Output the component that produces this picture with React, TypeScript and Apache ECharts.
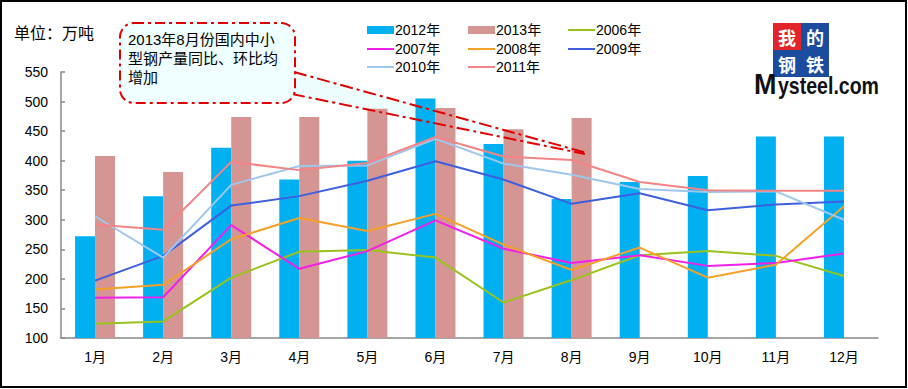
import React, { useEffect, useRef } from 'react';
import * as echarts from 'echarts';

const months = ['1月', '2月', '3月', '4月', '5月', '6月', '7月', '8月', '9月', '10月', '11月', '12月'];
const s2012 = [272, 340, 422, 368, 400, 505, 428, 335, 364, 374, 441, 441];
const s2013 = [408, 381, 474, 474, 488, 489, 453, 472, null, null, null, null];
const s2006 = [124, 128, 202, 246, 249, 236, 160, 198, 240, 247, 239, 205];
const s2007 = [168, 169, 291, 217, 247, 299, 251, 227, 240, 222, 227, 243];
const s2008 = [182, 190, 267, 303, 281, 310, 258, 215, 253, 202, 224, 323];
const s2009 = [197, 239, 324, 340, 366, 399, 368, 327, 345, 316, 326, 331];
const s2010 = [306, 236, 359, 391, 392, 437, 395, 376, 352, 347, 348, 300];
const s2011 = [292, 283, 398, 384, 396, 440, 407, 401, 364, 350, 349, 349];

const yTicks = { min: 100, max: 550, interval: 50 };
const unitLabel = '单位：万吨';
const noteText = '2013年8月份国内中小\n型钢产量同比、环比均\n增加';

const FONT = "'Liberation Sans', 'Noto Sans CJK SC', sans-serif";
const RED = '#E00000';

export default function App() {
  const ref = useRef<HTMLDivElement>(null);
  useEffect(() => {
    if (!ref.current) return;
    const chart = echarts.init(ref.current, undefined, { renderer: 'svg' });
    const bars = [
      { name: '2012年', data: s2012, color: '#00B0F0' },
      { name: '2013年', data: s2013, color: '#D59593' },
    ];
    const lines = [
      { name: '2006年', data: s2006, color: '#99C31C' },
      { name: '2007年', data: s2007, color: '#F21FEA' },
      { name: '2008年', data: s2008, color: '#F5A027' },
      { name: '2009年', data: s2009, color: '#3D5FE0' },
      { name: '2010年', data: s2010, color: '#9FC7EC' },
      { name: '2011年', data: s2011, color: '#F48485' },
    ];
    const legendPos: Record<string, [number, number]> = {
      '2012年': [367, 23], '2013年': [468, 23], '2006年': [568, 23],
      '2007年': [367, 42], '2008年': [468, 42], '2009年': [568, 42],
      '2010年': [367, 60], '2011年': [468, 60],
    };
    const legends = Object.keys(legendPos).map((name) => {
      const isBar = name === '2012年' || name === '2013年';
      return {
        data: [name],
        left: legendPos[name][0],
        top: legendPos[name][1],
        padding: 0,
        itemWidth: 27,
        itemHeight: isBar ? 8 : 2,
        icon: 'rect',
        selectedMode: false,
        textStyle: { fontSize: 14, color: '#000', fontFamily: FONT, padding: [0, 0, 0, -4] },
      };
    });
    chart.setOption({
      animation: false,
      backgroundColor: '#fff',
      title: {
        text: unitLabel,
        left: 14,
        top: 25,
        padding: 0,
        textStyle: { fontSize: 16, fontWeight: 'normal', color: '#000', fontFamily: FONT },
      },
      legend: legends,
      grid: { left: 61, right: 30, top: 72, bottom: 51 },
      xAxis: {
        type: 'category',
        data: months,
        boundaryGap: true,
        axisLine: { lineStyle: { color: '#888', width: 1.5 } },
        axisTick: { inside: true, length: 5, lineStyle: { color: '#888', width: 1.5 } },
        axisLabel: { fontSize: 14, color: '#000', margin: 12, fontFamily: FONT },
      },
      yAxis: {
        type: 'value',
        min: yTicks.min,
        max: yTicks.max,
        interval: yTicks.interval,
        splitLine: { show: false },
        axisLine: { show: true, lineStyle: { color: '#888', width: 1.5 } },
        axisTick: { show: true, inside: true, length: 4, lineStyle: { color: '#888', width: 1.5 } },
        axisLabel: { fontSize: 14, color: '#000', margin: 13, fontFamily: FONT },
      },
      series: [
        ...bars.map((b) => ({
          name: b.name,
          type: 'bar',
          data: b.data,
          barWidth: 20,
          barGap: '0%',
          itemStyle: { color: b.color },
          z: 2,
        })),
        ...lines.map((l) => ({
          name: l.name,
          type: 'line',
          data: l.data,
          symbol: 'none',
          color: l.color,
          itemStyle: { color: l.color },
          lineStyle: { color: l.color, width: 2 },
          z: 3,
        })),
      ],
      graphic: [
        {
          type: 'rect',
          shape: { x: 1, y: 1, width: 905, height: 386 },
          style: { fill: 'none', stroke: '#000', lineWidth: 2 },
          z: 100,
          silent: true,
        },
        {
          type: 'polygon',
          shape: { points: [[293, 70], [587, 153], [293, 96]] },
          style: { fill: 'rgba(225,252,252,0.6)' },
          z: 1,
          silent: true,
        },
        {
          type: 'line',
          shape: { x1: 294, y1: 72, x2: 587, y2: 153 },
          style: { stroke: RED, lineWidth: 2, lineDash: [13, 4, 3, 4] },
          z: 50,
          silent: true,
        },
        {
          type: 'line',
          shape: { x1: 292, y1: 94, x2: 585, y2: 154 },
          style: { stroke: RED, lineWidth: 2, lineDash: [13, 4, 3, 4] },
          z: 50,
          silent: true,
        },
        {
          type: 'rect',
          shape: { x: 120, y: 23, width: 175, height: 80, r: 14 },
          style: { fill: '#EFFFFF', stroke: RED, lineWidth: 2, lineDash: [10, 4, 3, 4] },
          z: 51,
          silent: true,
        },
        {
          type: 'text',
          x: 128,
          y: 30,
          style: {
            text: noteText,
            fontSize: 15,
            lineHeight: 19,
            fontFamily: FONT,
            fill: '#000',
            verticalAlign: 'top',
          },
          z: 52,
          silent: true,
        },
        // logo
        { type: 'rect', shape: { x: 773, y: 23, width: 28, height: 27 }, style: { fill: '#E3242B' }, z: 60, silent: true },
        { type: 'rect', shape: { x: 801, y: 23, width: 28, height: 27 }, style: { fill: '#1B4C9E' }, z: 60, silent: true },
        { type: 'rect', shape: { x: 773, y: 50, width: 28, height: 27 }, style: { fill: '#1B4C9E' }, z: 60, silent: true },
        { type: 'rect', shape: { x: 801, y: 50, width: 28, height: 27 }, style: { fill: '#1B4C9E' }, z: 60, silent: true },
        ...[
          ['我', 787, 36.5],
          ['的', 815, 36.5],
          ['钢', 787, 63.5],
          ['铁', 815, 63.5],
        ].map(([t, x, y]) => ({
          type: 'text',
          x: x as number,
          y: y as number,
          style: {
            text: t as string,
            fontSize: 18,
            lineHeight: 18,
            fontWeight: 'bold',
            fontFamily: "'Noto Sans CJK SC', sans-serif",
            fill: '#fff',
            align: 'center',
            verticalAlign: 'middle',
          },
          z: 61,
          silent: true,
        })),
        {
          type: 'text',
          x: 754,
          y: 83,
          scaleX: 0.9,
          style: {
            text: 'M',
            fontSize: 30,
            fontWeight: 'bold',
            fontFamily: "'Liberation Sans', sans-serif",
            fill: '#111',
            verticalAlign: 'middle',
          },
          z: 61,
          silent: true,
        },
        {
          type: 'text',
          x: 778,
          y: 86,
          scaleX: 0.85,
          style: {
            text: 'ysteel.com',
            fontSize: 23,
            fontWeight: 'bold',
            fontFamily: "'Liberation Sans', sans-serif",
            fill: '#111',
            verticalAlign: 'middle',
          },
          z: 61,
          silent: true,
        },
      ],
    });
    return () => chart.dispose();
  }, []);
  return (
    <div
      ref={ref}
      style={{ position: 'absolute', left: 0, top: 0, width: 908, height: 389, background: '#fff' }}
    />
  );
}
